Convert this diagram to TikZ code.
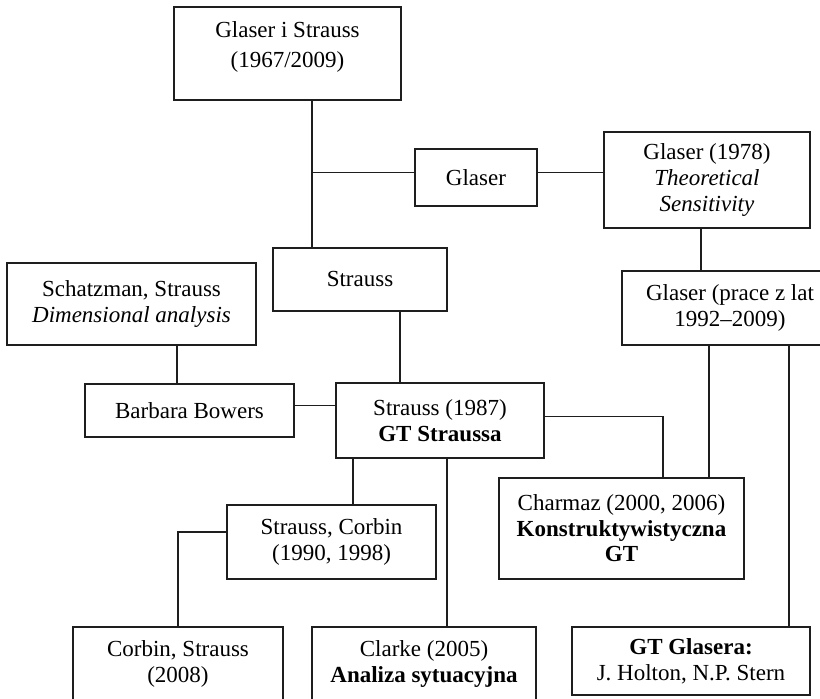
\documentclass[tikz,border=0pt]{standalone}
\usepackage{fontspec}
\setmainfont{Liberation Serif}
\usepackage{tikz}
\usetikzlibrary{positioning, calc}
\definecolor{boxline}{RGB}{30, 30, 30}

\tikzset{
  gtbox/.style={draw=boxline, line width=0.6pt, align=center, inner sep=2pt,
    font=\fontsize{11.5}{12.8}\selectfont},
  gtthick/.style={gtbox, line width=1.3pt},
  gtlink/.style={draw=boxline, line width=0.8pt}
}

\begin{document}
\begin{tikzpicture}[x=0.5pt, y=-0.5pt]
  \clip (0,0) rectangle (820,699);

  \node[gtthick, minimum width=113.5pt, minimum height=46.5pt, font=\fontsize{11.5}{15}\selectfont, text depth=8.5pt] (gs) at (287.5,53.5) {Glaser i Strauss\\(1967/2009)};
  \node[gtthick, minimum width=61pt, minimum height=28.5pt] (glaser) at (476,177.5) {Glaser};
  \node[gtbox, minimum width=103pt, minimum height=48pt] (glaser78) at (707,180) {Glaser (1978)\\\textit{Theoretical}\\\textit{Sensitivity}};
  \node[gtbox, minimum width=108pt, minimum height=37pt] (glaserlate) at (730,308) {Glaser (prace z lat\\1992--2009)};
  \node[gtthick, minimum width=87pt, minimum height=31.5pt] (strauss) at (360,279.5) {Strauss};
  \node[gtbox, minimum width=124.5pt, minimum height=41pt] (schatzman) at (131.5,304) {Schatzman, Strauss\\\textit{Dimensional analysis}};
  \node[gtbox, minimum width=104.5pt, minimum height=26.5pt] (bowers) at (189.5,410.5) {Barbara Bowers};
  \node[gtbox, minimum width=104pt, minimum height=37.5pt] (strauss87) at (440,420.5) {Strauss (1987)\\\textbf{GT Straussa}};
  \node[gtbox, minimum width=122.5pt, minimum height=50.5pt] (charmaz) at (621.5,528.5) {Charmaz (2000, 2006)\\\textbf{Konstruktywistyczna}\\\textbf{GT}};
  \node[gtbox, minimum width=104.5pt, minimum height=37pt] (strcorbin) at (331.5,542) {Strauss, Corbin\\(1990, 1998)};
  \node[gtbox, minimum width=105pt, minimum height=37pt] (corbinstr) at (178,664) {Corbin, Strauss\\(2008)};
  \node[gtbox, minimum width=112pt, minimum height=37pt] (clarke) at (424,664) {Clarke (2005)\\\textbf{Analiza sytuacyjna}};
  \node[gtbox, minimum width=119pt, minimum height=34pt] (gtglaser) at (691,661) {\textbf{GT Glasera:}\\J. Holton, N.P. Stern};

  \coordinate (trunk) at ([xshift=12.25pt]gs.south);
  \coordinate (glaser-w) at ([yshift=2.5pt]glaser.west);
  \coordinate (glaser-e) at ([yshift=2.5pt]glaser.east);
  \coordinate (glaser78-s) at ([xshift=-3pt]glaser78.south);
  \coordinate (late-s1) at ([xshift=-10.5pt]glaserlate.south);
  \coordinate (late-s2) at ([xshift=29.5pt]glaserlate.south);
  \coordinate (strauss-s) at ([xshift=20pt]strauss.south);
  \coordinate (schatzman-s) at ([xshift=22.75pt]schatzman.south);
  \coordinate (bowers-e) at ([yshift=2.4pt]bowers.east);
  \coordinate (s87-e) at ([yshift=1.9pt]strauss87.east);
  \coordinate (s87-s1) at ([xshift=-43.5pt]strauss87.south);
  \coordinate (s87-s2) at ([xshift=3.35pt]strauss87.south);
  \coordinate (strcorbin-w) at ([yshift=5pt]strcorbin.west);

  \draw[gtlink] (trunk) -- (trunk |- strauss.north);
  \draw[gtlink] (glaser-w) -- (trunk |- glaser-w);
  \draw[gtlink] (glaser-e) -- (glaser-e -| glaser78.west);
  \draw[gtlink] (glaser78-s) -- (glaser78-s |- glaserlate.north);
  \draw[gtlink] (late-s1) -- (late-s1 |- charmaz.north);
  \draw[gtlink] (late-s2) -- (late-s2 |- gtglaser.north);
  \draw[gtlink] (strauss-s) -- (strauss-s |- strauss87.north);
  \draw[gtlink] (schatzman-s) -- (schatzman-s |- bowers.north);
  \draw[gtlink] (bowers-e) -- (bowers-e -| strauss87.west);
  \draw[gtlink] (s87-e) -| ([xshift=20.75pt]charmaz.north);
  \draw[gtlink] (s87-s1) -- (s87-s1 |- strcorbin.north);
  \draw[gtlink] (s87-s2) -- (s87-s2 |- clarke.north);
  \draw[gtlink] (strcorbin-w) -| (corbinstr.north);
\end{tikzpicture}
\end{document}
